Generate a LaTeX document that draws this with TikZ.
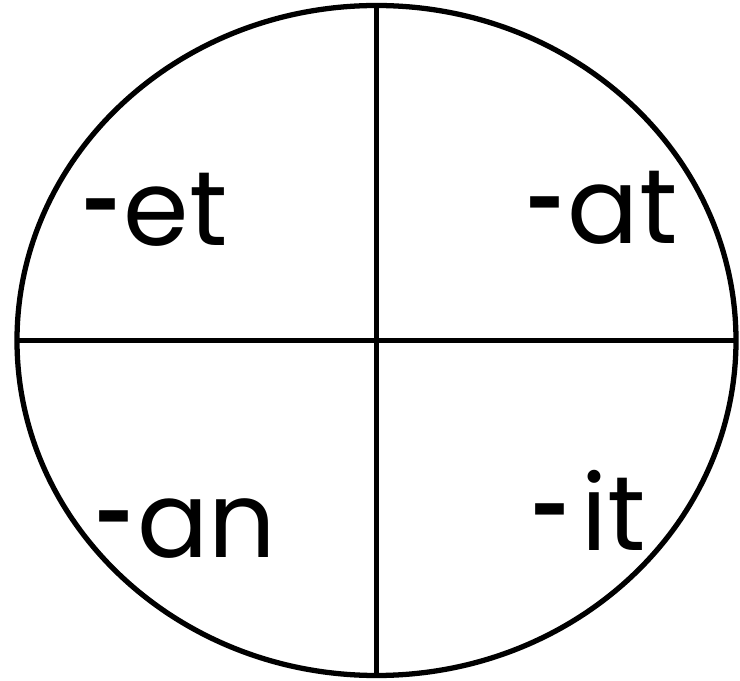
\documentclass[tikz,border=0pt]{standalone}
\usepackage{fontspec}
\setmainfont{Poppins}
\usepackage{tikz}
\usetikzlibrary{shapes.geometric}
\newcommand{\dashmark}{\raisebox{-0.12em}{\scalebox{0.68}[1.4]{-}}\kern0.02em}

\begin{document}
\begin{tikzpicture}[
  rim/.style={line width=3pt},
  ring/.style={draw, ellipse, rim, inner sep=0pt, outer sep=0pt, minimum width=14.38cm, minimum height=13.4cm},
  word/.style={anchor=base, inner sep=0pt, font=\fontsize{60}{70}\selectfont}
]
\useasboundingbox (0,0) rectangle (14.8,13.62);
\node[ring] (wheel) at (7.53,6.81) {};
\draw[rim] (wheel.north) -- (wheel.south);
\draw[rim] (wheel.west) -- (wheel.east);
\node[word] (et) at (3.10,8.70) {\dashmark et};
\node[word] (at) at (12.04,8.74) {\dashmark at};
\node[word] (an) at (3.72,2.46) {\dashmark an};
\node[word] (it) at (11.78,2.60) {\dashmark\kern0.08em it};
\end{tikzpicture}
\end{document}
